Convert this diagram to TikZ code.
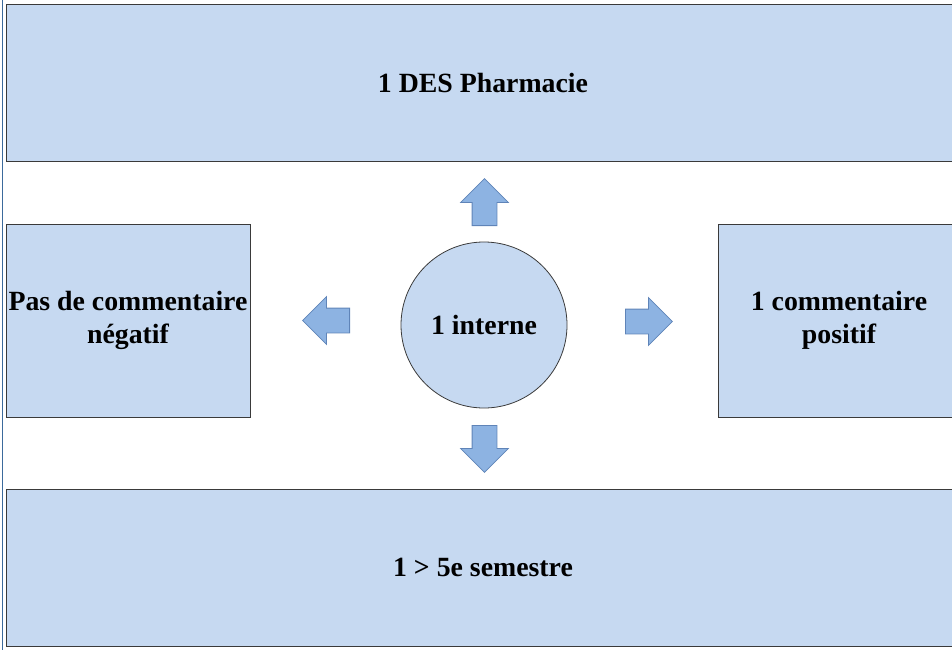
\documentclass[tikz,border=0pt]{standalone}
\usepackage{fontspec}
\setmainfont{Liberation Serif}
\usepackage{tikz}
\usetikzlibrary{
  shapes.geometric,
  shapes.arrows,
  positioning
}
\usepackage{xcolor}
\definecolor{boxfill}{HTML}{C6D9F1}
\definecolor{boxline}{HTML}{3A3A3A}
\definecolor{arrfill}{HTML}{8DB3E2}
\definecolor{arrline}{HTML}{5F84B8}
\definecolor{pageline}{HTML}{3B6A9C}

\begin{document}
\begin{tikzpicture}[
    x=1pt, y=-1pt,
    font=\fontsize{27.8}{33.6}\selectfont\bfseries,
    box/.style={rectangle, draw=boxline, line width=1pt, fill=boxfill,
                inner sep=0pt, align=center},
    ring/.style={circle, draw=boxline, line width=0.8pt, fill=boxfill,
                 minimum size=166pt, inner sep=0pt},
    blockarrow/.style={single arrow, draw=arrline, line width=0.8pt, fill=arrfill,
                       inner sep=12pt, minimum height=47pt, anchor=tail,
                       single arrow head extend=11.5pt},
  ]
    \clip (0,0) rectangle (952,650);

    %% ── Page edge ────────────────────────────────────────────
    \draw[pageline, line width=1pt] (2.5,0) -- (2.5,650);

    %% ── Boxes ────────────────────────────────────────────────
    \node[box, minimum width=954pt, minimum height=156pt] (des)  at (483,83)   {1 DES Pharmacie};
    \node[box, minimum width=954pt, minimum height=157pt] (sem)  at (483,567.5) {1 > 5e semestre};
    \node[box, minimum width=244pt, minimum height=193pt] (neg)  at (128,320.5) {Pas de commentaire\\n\'egatif};
    \node[box, minimum width=242pt, minimum height=193pt] (pos)  at (839,320.5) {1 commentaire\\positif};
    \node[ring] (int) at (484,325) {1 interne};

    %% ── Block arrows (placed by their tails) ─────────────────
    \node[blockarrow, shape border rotate=90]  (up)    at (484.5,226)  {};
    \node[blockarrow, shape border rotate=270] (down)  at (484.5,425)  {};
    \node[blockarrow, shape border rotate=180] (left)  at (350,320.5)  {};
    \node[blockarrow]                          (right) at (625,321.5)  {};

\end{tikzpicture}
\end{document}
